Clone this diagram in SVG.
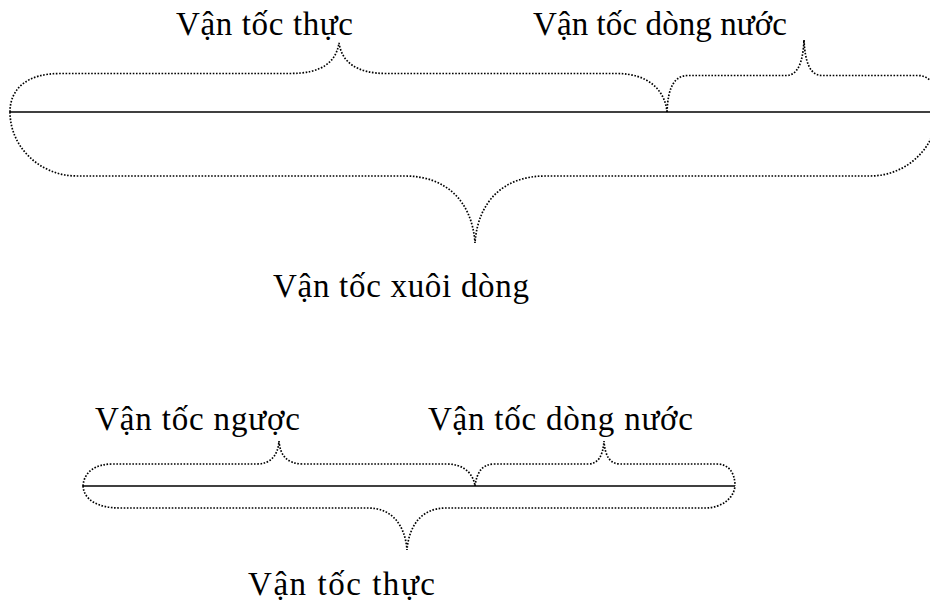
<svg xmlns="http://www.w3.org/2000/svg" width="930" height="603" viewBox="0 0 930 603">
<style>
.bg{fill:#ffffff}
.axis{stroke:#000;stroke-width:1.7;fill:none}
.brace{stroke:#000;stroke-width:1.7;fill:none;stroke-dasharray:1.6 1.6}
.lbl{font-family:"Liberation Serif","Times New Roman",serif;font-size:33px;fill:#000}
</style>
<rect class="bg" x="0" y="0" width="930" height="603"/>
<g id="connectors">
<line class="axis" x1="10" y1="112" x2="930" y2="112"/>
<line class="axis" x1="83" y1="486" x2="735" y2="486"/>
</g>
<g id="brace-thuc-top">
<path class="brace" d="M10,112 C10,88 28,73.5 60,73.5 L290,73.5 C322,73.5 336,62 339,43 C342,62 356,73.5 387,73.5 L617,73.5 C648,73.5 665,90 667,112"/>
<text class="lbl" x="176" y="35" textLength="177" lengthAdjust="spacing">Vận tốc thực</text>
</g>
<g id="brace-dongnuoc-top">
<path class="brace" d="M667,112 C668,86 675,75.5 688,75.5 L786,75.5 C798,75.5 803,62 804,40 C805,62 810,75.5 822,75.5 L918,75.5 C932,75.5 939,90 940,112"/>
<text class="lbl" x="533" y="35" textLength="254" lengthAdjust="spacing">Vận tốc dòng nước</text>
</g>
<g id="brace-xuoidong">
<path class="brace" d="M10,112 C10,147 40,176 77,176 L405,176 C445,176 472,200 475,243 C478,200 505,176 545,176 L870,176 C907,176 937,147 937,112"/>
<text class="lbl" x="273" y="297" textLength="256" lengthAdjust="spacing">Vận tốc xuôi dòng</text>
</g>
<g id="brace-nguoc">
<path class="brace" d="M83,486 C84,472 95,464 113,464 L257,464 C270,464 278,456 279,441 C280,456 288,464 303,464 L447,464 C462,464 473,472 475,486"/>
<text class="lbl" x="95" y="430" textLength="205" lengthAdjust="spacing">Vận tốc ngược</text>
</g>
<g id="brace-dongnuoc-bottom">
<path class="brace" d="M475,486 C477,472 482,464 495,464 L588,464 C598,464 603,456 604,441 C605,456 610,464 620,464 L717,464 C728,464 735,472 735,486"/>
<text class="lbl" x="428" y="430" textLength="265" lengthAdjust="spacing">Vận tốc dòng nước</text>
</g>
<g id="brace-thuc-bottom">
<path class="brace" d="M83,486 C84,500 98,508 120,508 L368,508 C392,508 405,525 407,550 C409,525 422,508 446,508 L705,508 C722,508 734,498 735,486"/>
<text class="lbl" x="248" y="595" textLength="187" lengthAdjust="spacing">Vận tốc thực</text>
</g>
</svg>
